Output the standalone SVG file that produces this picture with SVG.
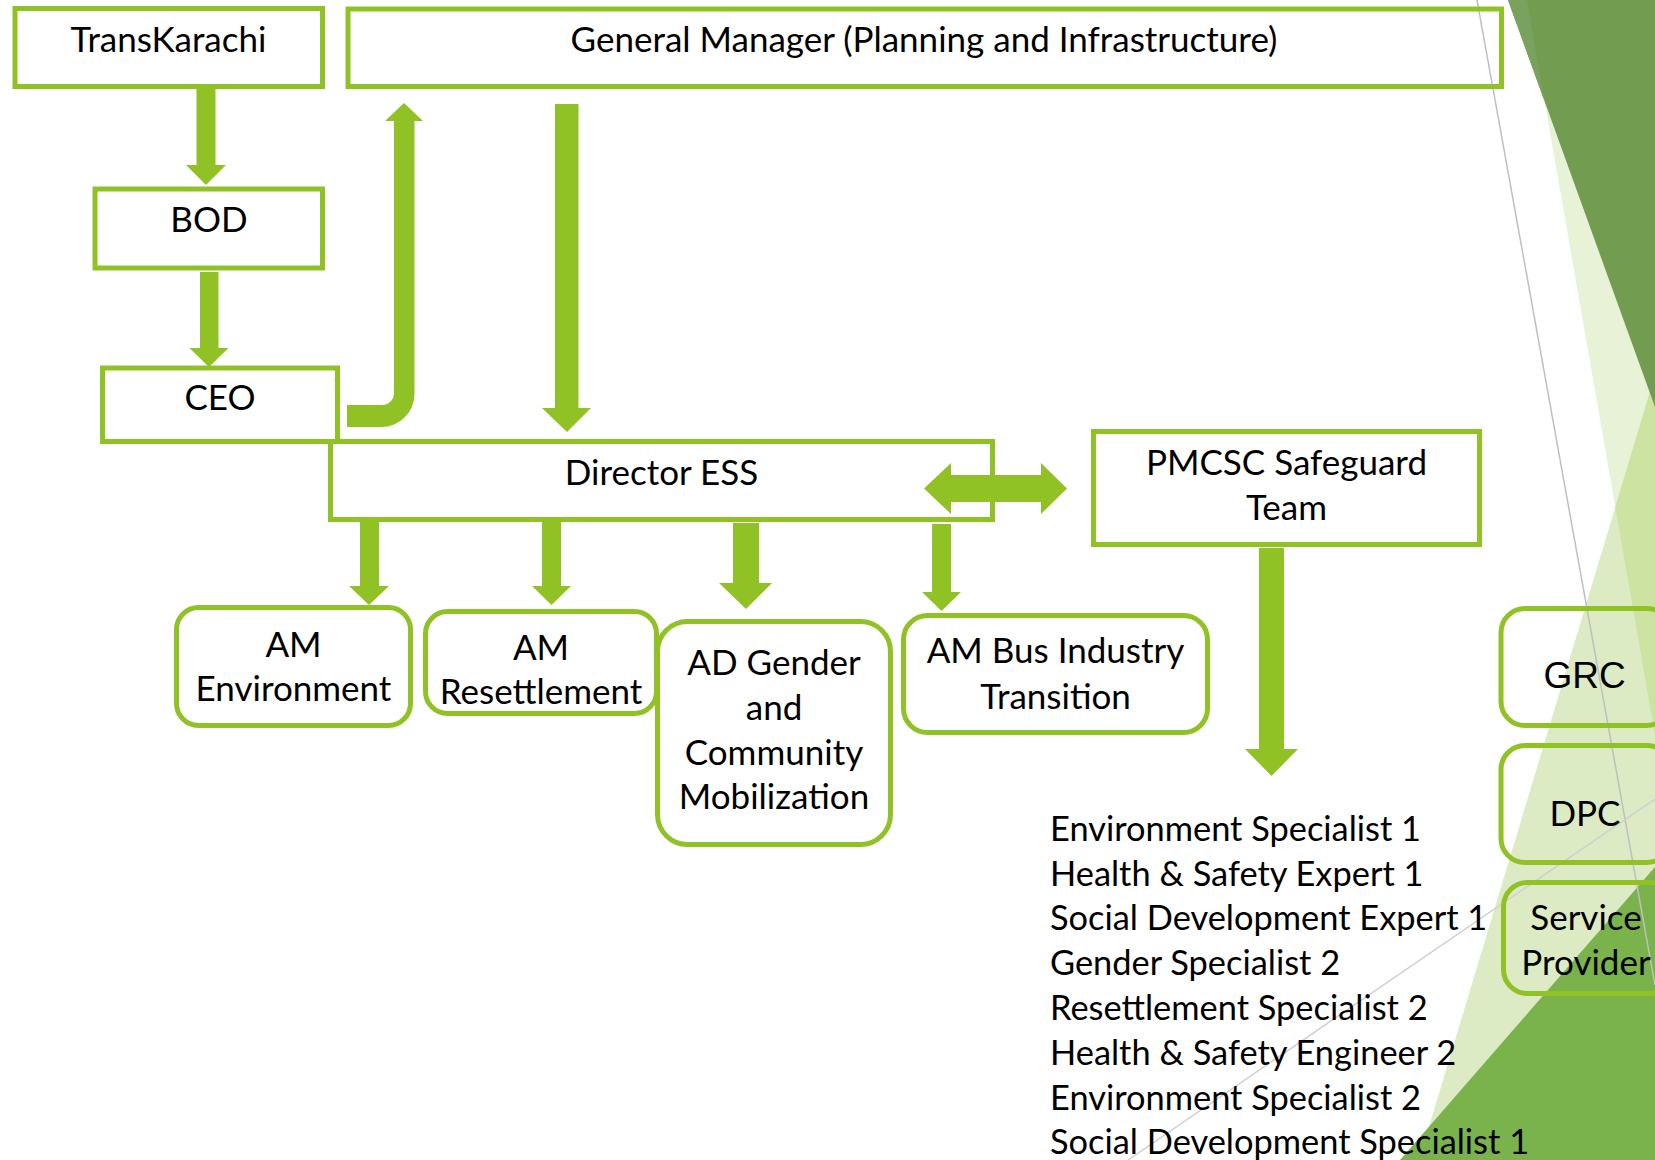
<svg xmlns="http://www.w3.org/2000/svg" width="1655" height="1160" viewBox="0 0 1655 1160">
<style>
.box{fill:none;stroke:#90C226;stroke-width:5}
.arr{fill:#90C226}
.t{font-family:Lato,"Liberation Sans",sans-serif;font-size:35px;fill:#000;text-anchor:middle}
.ta{font-family:"Liberation Sans",Arial,sans-serif;font-size:37px;fill:#000;text-anchor:middle}
.list{font-family:Lato,"Liberation Sans",sans-serif;font-size:34.4px;fill:#000}
</style>
<rect width="1655" height="1160" fill="#ffffff"/>
<g id="decor">
<polygon points="1527,0 1655,0 1655,735" fill="#E8F2D6"/>
<polygon points="1655,375 1419,1160 1655,1160" fill="#DCEBC4"/>
<polygon points="1655,375 1615.3,507 1655,735" fill="#CDE3A2"/>
<polygon points="1655,867 1655,1160 1400,1160" fill="#7AB24B"/>
<polygon points="1508,0 1655,0 1655,407" fill="#729C50"/>
<polygon points="1508,0 1527,0 1544,100" fill="#78A25E"/>
<line x1="1477" y1="0" x2="1655" y2="985" stroke="#BFBFBF" stroke-width="1.5"/>
<line x1="1128" y1="1160" x2="1655" y2="799" stroke="#D0D0D0" stroke-width="1.5"/>
</g>
<g id="connectors">
<polygon class="arr" points="196.5,87 215.5,87 215.5,165 226,165 206,185 186,165 196.5,165"/>
<polygon class="arr" points="200,272 218.5,272 218.5,348 228.5,348 209,367 189.5,348 200,348"/>
<path class="arr" d="M347,405 L382,405 A12,12 0 0 0 394,393 L394,121 L385,121 L404,103 L423,121 L414.5,121 L414.5,394 A33,33 0 0 1 381.5,427 L347,427 Z"/>
<polygon class="arr" points="555,104 578.5,104 578.5,408 591,408 567,432 542,408 555,408"/>
<polygon class="arr" points="360,522 379,522 379,586 389,586 369,605 349,586 360,586"/>
<polygon class="arr" points="542,522 561,522 561,586 571,586 551.5,605 532,586 542,586"/>
<polygon class="arr" points="733,523 759,523 759,583 772,583 746,609 719,583 733,583"/>
<polygon class="arr" points="932,524 951,524 951,592 961,592 941.5,611 922,592 932,592"/>
<polygon class="arr" points="924,488.5 951,463 951,475 1041,475 1041,463 1067,488.5 1041,514 1041,502 951,502 951,514"/>
<polygon class="arr" points="1259,548 1284,548 1284,749 1298,749 1271.5,776 1245,749 1259,749"/>
</g>
<g id="transkarachi"><rect class="box" x="15" y="8.5" width="307.5" height="78"/><text class="t" x="168.5" y="52">TransKarachi</text></g>
<g id="gm"><rect class="box" x="348" y="9" width="1153.5" height="77.5"/><text class="t" x="924" y="52">General Manager (Planning and Infrastructure)</text></g>
<g id="bod"><rect class="box" x="95" y="189" width="227.5" height="79"/><text class="t" x="209" y="232">BOD</text></g>
<g id="ceo"><rect class="box" x="102.5" y="368" width="235" height="73.5"/><text class="t" x="220" y="410">CEO</text></g>
<g id="director"><rect class="box" x="330.5" y="441.5" width="662" height="78"/><text class="t" x="661.5" y="485">Director ESS</text></g>
<g id="pmcsc"><rect class="box" x="1093.5" y="431.5" width="386" height="113"/><text class="t" x="1286.5" y="475">PMCSC Safeguard</text><text class="t" x="1286.5" y="520">Team</text></g>
<g id="am-env"><rect class="box" x="176.5" y="607.5" width="234" height="118" rx="22"/><text class="t" x="293.5" y="657">AM</text><text class="t" x="293.5" y="701">Environment</text></g>
<g id="am-res"><rect class="box" x="425.5" y="611.5" width="231" height="102" rx="22"/><text class="t" x="541" y="660">AM</text><text class="t" x="541" y="704">Resettlement</text></g>
<g id="ad-gender"><rect class="box" x="657.5" y="621.5" width="233" height="223" rx="30"/><text class="t" x="774" y="675">AD Gender</text><text class="t" x="774" y="720">and</text><text class="t" x="774" y="765">Community</text><text class="t" x="774" y="809">Mobilization</text></g>
<g id="am-bus"><rect class="box" x="903.5" y="615.5" width="304" height="117" rx="24"/><text class="t" x="1055.5" y="663">AM Bus Industry</text><text class="t" x="1055.5" y="709">Transition</text></g>
<g id="grc"><rect class="box" x="1501" y="608.5" width="170" height="117" rx="24"/><text class="ta" x="1584.5" y="688">GRC</text></g>
<g id="dpc"><rect class="box" x="1501" y="745.5" width="170" height="117" rx="24"/><text class="t" x="1585" y="826">DPC</text></g>
<g id="service"><rect class="box" x="1503.5" y="882.5" width="170" height="111" rx="24"/><text class="t" x="1586" y="930">Service</text><text class="t" x="1586" y="975">Provider</text></g>
<g id="team-list">
<text class="list" x="1050" y="841">Environment Specialist 1</text>
<text class="list" x="1050" y="886">Health &amp; Safety Expert 1</text>
<text class="list" x="1050" y="930">Social Development Expert 1</text>
<text class="list" x="1050" y="975">Gender Specialist 2</text>
<text class="list" x="1050" y="1020">Resettlement Specialist 2</text>
<text class="list" x="1050" y="1065">Health &amp; Safety Engineer 2</text>
<text class="list" x="1050" y="1110">Environment Specialist 2</text>
<text class="list" x="1050" y="1154">Social Development Specialist 1</text>
</g>
</svg>
